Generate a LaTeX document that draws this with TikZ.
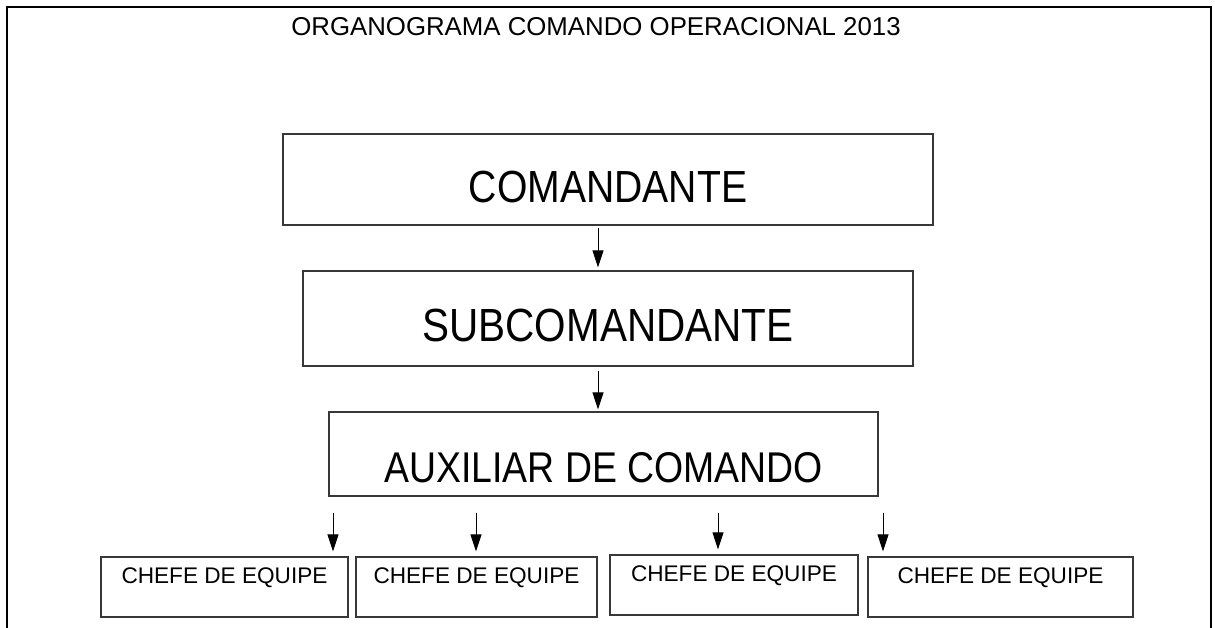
\documentclass[tikz,border=0pt]{standalone}
\usepackage{fontspec}
\setmainfont{Liberation Sans}
\newfontfamily\estreita[FakeStretch=0.87]{Liberation Sans}
\usetikzlibrary{arrows.meta}

\tikzset{
  cargo/.style={draw=black!78, line width=1.3pt, inner sep=0pt, anchor=base,
    font=\estreita\fontsize{45}{50}\selectfont},
  chefe/.style={draw=black!78, line width=1.3pt, inner sep=0pt, anchor=base,
    text height=26pt, text depth=34pt, font=\fontsize{22.6}{26}\selectfont},
  seta/.style={-{Triangle[length=17pt,width=11pt]}, line width=1pt},
}

\begin{document}
\begin{tikzpicture}[x=1pt,y=-1pt]
        \useasboundingbox (0,0) rectangle (1215,628);
        \draw[line width=2pt] (7,628) -- (7,7) -- (1211,7) -- (1211,628);
        \node[anchor=base, inner sep=0pt, font=\fontsize{25.8}{30}\selectfont] (titulo) at (596,36)
            {ORGANOGRAMA COMANDO OPERACIONAL 2013};
        % caixas principais
        \node[cargo, minimum width=650pt, text height=69pt, text depth=22pt] (cmd) at (608,203) {COMANDANTE};
        \node[cargo, minimum width=610pt, text height=70pt, text depth=25pt,
            font=\estreita\fontsize{46.5}{50}\selectfont] (sub) at (608,341) {SUBCOMANDANTE};
        \node[cargo, minimum width=549pt, text height=70pt, text depth=14pt,
            font=\estreita\fontsize{43}{50}\selectfont] (aux) at (603.5,482) {AUXILIAR DE COMANDO};
        % chefes de equipe
        \node[chefe, minimum width=247pt] (ch1) at (224.5,583) {CHEFE DE EQUIPE};
        \node[chefe, minimum width=241pt] (ch2) at (476.5,583) {CHEFE DE EQUIPE};
        \node[chefe, minimum width=248pt] (ch3) at (734,581) {CHEFE DE EQUIPE};
        \node[chefe, minimum width=265pt] (ch4) at (1000.5,583) {CHEFE DE EQUIPE};
        % setas
        \coordinate (s1) at (598,0);
        \draw[seta, shorten <=2pt, shorten >=3pt] (cmd.south -| s1) -- (sub.north -| s1);
        \draw[seta, shorten <=4pt, shorten >=2pt] (sub.south -| s1) -- (aux.north -| s1);
        \foreach \x/\c in {333/ch1, 476/ch2, 718/ch3, 883/ch4}
        \draw[seta, shorten <=16pt, shorten >=5pt] (aux.south -| \x,0) -- (\c.north -| \x,0);
    \end{tikzpicture}
\end{document}
